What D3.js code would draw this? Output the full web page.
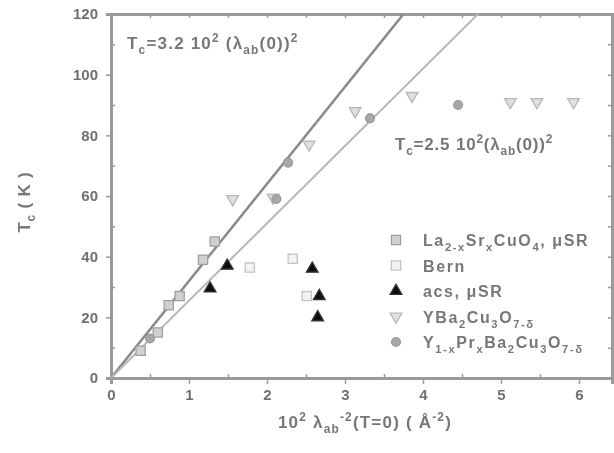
<!DOCTYPE html>
<html><head><meta charset="utf-8">
<script src="https://cdn.jsdelivr.net/npm/d3@7/dist/d3.min.js"></script>
<style>body{margin:0;background:#fff}svg{font-family:Arial,"Liberation Sans",sans-serif}</style>
</head><body><svg id="c" width="614" height="453"></svg>
<script>
const xTicks = [0,1,2,3,4,5,6];
const yTicks = [0,20,40,60,80,100,120];
const lscoData = [[0.38,9],[0.6,15],[0.74,24],[0.88,27],[1.18,39],[1.33,45]];
const bernData = [[1.78,36.4],[2.33,39.3],[2.51,27]];
const acsData = [[1.27,29.5],[1.49,37],[2.58,36],[2.67,27],[2.65,20]];
const ybcoData = [[1.56,59],[2.08,59.5],[2.54,77],[3.13,88],[3.86,93],[5.12,91],[5.46,91],[5.93,91]];
const yprData = [[0.5,13],[2.12,59],[2.27,71],[3.32,85.6],[4.45,90]];
const slopes = [32, 25.5];
const legendLabels = [
  [["La",""],["2-x","sub"],["Sr",""],["x","sub"],["CuO",""],["4","sub"],[", μSR",""]],
  [["Bern",""]],
  [["acs, μSR",""]],
  [["YBa",""],["2","sub"],["Cu",""],["3","sub"],["O",""],["7-δ","sub"]],
  [["Y",""],["1-x","sub"],["Pr",""],["x","sub"],["Ba",""],["2","sub"],["Cu",""],["3","sub"],["O",""],["7-δ","sub"]]
];

const svg = d3.select("#c");
svg.append("defs").append("filter").attr("id","bl").append("feGaussianBlur").attr("stdDeviation",0.7);
const L=111, R=612, T=14, B=378;
const x = d3.scaleLinear().domain([0,(R-L)/78]).range([L,R]);
const y = d3.scaleLinear().domain([0,120]).range([B,T]);
const frame = "#9a9a9a", txt="#707070";

const g = svg.append("g").attr("id","chart").attr("filter","url(#bl)");
const ax = (gen, tr) => g.append("g").attr("transform",tr).call(gen)
  .call(s=>{s.select(".domain").attr("stroke",frame).attr("stroke-width",3);
    s.selectAll(".tick line").attr("stroke",frame).attr("stroke-width",1.5);
    s.selectAll("text").attr("fill",txt).attr("font-size",15).attr("font-weight","bold");});
ax(d3.axisBottom(x).tickValues(xTicks).tickSize(6).tickPadding(5).tickFormat(d3.format("d")),`translate(0,${B})`);
ax(d3.axisBottom(x).tickValues(d3.range(0.5,6.5,1)).tickSize(-4).tickFormat(""),`translate(0,${B})`);
ax(d3.axisLeft(y).tickValues(yTicks).tickSize(5).tickPadding(8).tickFormat(d3.format("d")),`translate(${L},0)`);
ax(d3.axisLeft(y).tickValues(d3.range(10,120,20)).tickSize(-4).tickFormat(""),`translate(${L},0)`);
ax(d3.axisTop(x).tickValues(d3.range(0,6.5,0.5)).tickSize(-4).tickFormat(""),`translate(0,${T})`);
ax(d3.axisRight(y).tickValues(d3.range(0,121,10)).tickSize(-4).tickFormat(""),`translate(${R},0)`);

const lineCols=["#8a8a8a","#b8b8b8"], lineW=[2.6,2];
slopes.forEach((s,i)=>{
  g.append("line").attr("x1",x(0)).attr("y1",y(0)).attr("x2",x(120/s)).attr("y2",y(120))
   .attr("stroke",lineCols[i]).attr("stroke-width",lineW[i]);
});

const sym = {
  sq: d3.symbol().type(d3.symbolSquare).size(85),
  tri: d3.symbol().type(d3.symbolTriangle).size(60),
  circ: d3.symbol().type(d3.symbolCircle).size(60)
};
const series = [
  {data:lscoData, path:sym.sq(), fill:"#d0d0d0", stroke:"#a0a0a0", rot:0},
  {data:bernData, path:sym.sq(), fill:"#f2f2f2", stroke:"#c4c4c4", rot:0},
  {data:acsData, path:sym.tri(), fill:"#111", stroke:"#333", rot:0},
  {data:ybcoData, path:sym.tri(), fill:"#e0e0e0", stroke:"#b8b8b8", rot:180},
  {data:yprData, path:sym.circ(), fill:"#a8a8a8", stroke:"#999", rot:0}
];
series.forEach(s=>{
  g.append("g").selectAll("path").data(s.data).join("path")
   .attr("d",s.path).attr("transform",d=>`translate(${x(d[0])},${y(d[1])}) rotate(${s.rot})`)
   .attr("fill",s.fill).attr("stroke",s.stroke).attr("stroke-width",1.3);
});

function eq(parent,x0,y0,parts,size,col,ls){
  const t = parent.append("text").attr("x",x0).attr("y",y0).attr("font-size",size).attr("fill",col)
    .attr("font-weight","bold").attr("letter-spacing",ls||0);
  let off=0;
  parts.forEach(([s,k])=>{
    const target = k==="sub"?5:(k==="sup"?-7:0);
    const sp=t.append("tspan").text(s).attr("dy",target-off);
    if(k) sp.attr("font-size",size*0.7);
    off=target;
  });
  return t;
}
eq(g,127,49,[["T",""],["c","sub"],["=3.2 10",""],["2","sup"],[" (λ",""],["ab","sub"],["(0))",""],["2","sup"]],17,"#777",1.2);
eq(g,395,150,[["T",""],["c","sub"],["=2.5 10",""],["2","sup"],["(λ",""],["ab","sub"],["(0))",""],["2","sup"]],17,"#777",0.8);

const lg = g.append("g");
legendLabels.forEach((lab,i)=>{
  const yy = 240 + i*25.5, s=series[i];
  lg.append("path").attr("d",s.path).attr("transform",`translate(396,${yy}) rotate(${s.rot})`)
    .attr("fill",s.fill).attr("stroke",s.stroke).attr("stroke-width",1.3);
  eq(lg,423,yy+6,lab,16,"#777",1.6);
});

eq(g,365,428,[["10",""],["2","sup"],[" λ",""],["ab","sub"],["-2","sup"],["(T=0) ( Å",""],["-2","sup"],[")",""]],17,"#777",1.2).attr("text-anchor","middle");
const yt = eq(g,0,0,[["T",""],["c","sub"],[" ( K )",""]],17,"#777",0.8).attr("text-anchor","middle");
yt.attr("transform","translate(30,202) rotate(-90)");
</script></body></html>
